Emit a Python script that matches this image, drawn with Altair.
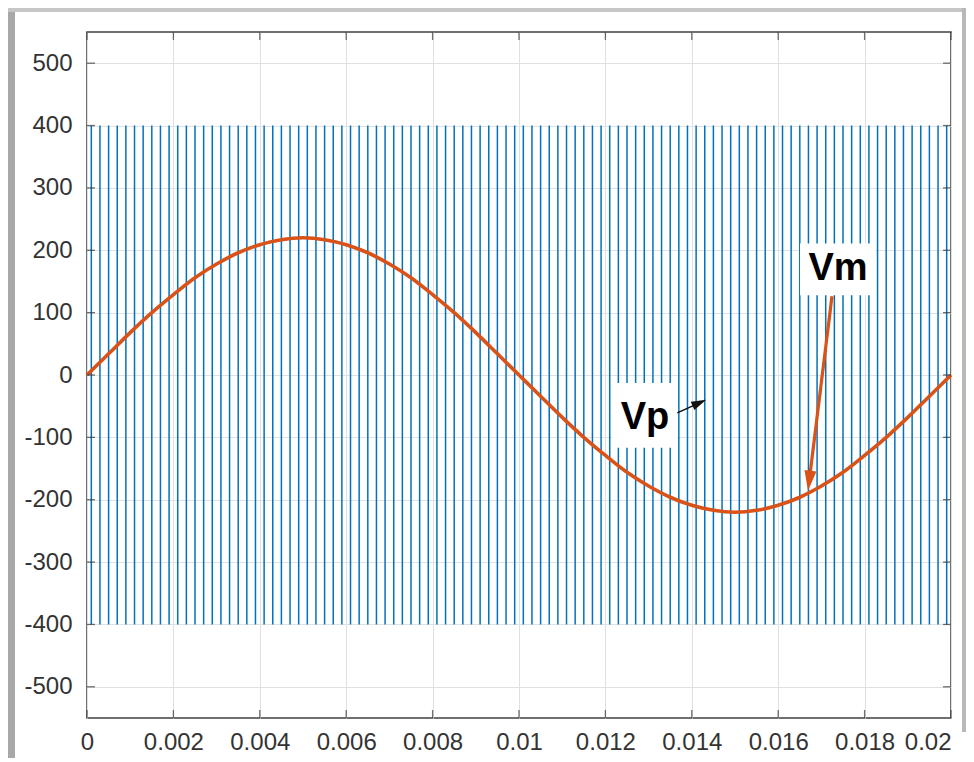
import altair as alt
import pandas as pd

# ---------------- data ----------------
x_ticks = [0, 0.002, 0.004, 0.006, 0.008, 0.01, 0.012, 0.014, 0.016, 0.018, 0.02]
y_ticks = [-500, -400, -300, -200, -100, 0, 100, 200, 300, 400, 500]

# carrier (Vp): 100 strokes between -400 and 400, one every 0.0002 s
carrier_t = [round(0.0001 + 0.0002 * k, 4) for k in range(100)]
carrier_lo = [-400] * 100
carrier_hi = [400] * 100

# modulating wave (Vm)
sine_t = [round(0.0005 * i, 4) for i in range(41)]
sine_v = [0, 34, 68, 100, 129, 156, 178, 196, 209, 217, 220, 217, 209, 196, 178, 156,
          129, 100, 68, 34, 0, -34, -68, -100, -129, -156, -178, -196, -209, -217,
          -220, -217, -209, -196, -178, -156, -129, -100, -68, -34, 0]

# annotations
ann_text = ["Vp", "Vm"]
ann_t = [0.012917, 0.017384]
ann_v = [-68.7, 169.3]
box_t1 = [0.012153, 0.016505]
box_t2 = [0.013657, 0.018264]
box_v1 = [-12.8, 210.9]
box_v2 = [-116.6, 127.8]
arrow_t0 = [0.013664, 0.017245]
arrow_v0 = [-60.7, 126.2]
arrow_t1 = [0.014176, 0.016718]
arrow_v1 = [-44.7, -169.5]
arrow_angle = [66, 187]
arrow_color = ["#111111", "#D95319"]
arrow_width = [1.6, 3.2]
arrow_size = [225, 400]

BLUE = "#0072BD"
ORANGE = "#D95319"

xs = alt.Scale(domain=[0, 0.02], nice=False, zero=False)
ys = alt.Scale(domain=[-550, 550], nice=False, zero=False)
x_axis = alt.Axis(values=x_ticks, labelExpr="format(datum.value, '.3~f')",
                  grid=True, labelPadding=12, labelFlush=False, labelOverlap=False, title=None,
                  labelAlign={"condition": {"test": "datum.value >= 0.0199", "value": "right"},
                              "value": "center"})
y_axis = alt.Axis(values=y_ticks, labelExpr="'' + datum.value",
                  grid=True, labelPadding=15, labelFlush=False, labelOverlap=False, title=None)


def X(field):
    return alt.X(field, scale=xs, axis=x_axis, title=None)


def Y(field):
    return alt.Y(field, scale=ys, axis=y_axis, title=None)


carrier_df = pd.DataFrame({"t": carrier_t, "lo": carrier_lo, "hi": carrier_hi})
sine_df = pd.DataFrame({"t": sine_t, "v": sine_v})
ann_df = pd.DataFrame({
    "text": ann_text, "t": ann_t, "v": ann_v,
    "bt1": box_t1, "bt2": box_t2, "bv1": box_v1, "bv2": box_v2,
    "at0": arrow_t0, "av0": arrow_v0, "at1": arrow_t1, "av1": arrow_v1,
    "angle": arrow_angle, "color": arrow_color, "width": arrow_width, "size": arrow_size,
})
yt_df = pd.DataFrame({"v": y_ticks})
xt_df = pd.DataFrame({"t": x_ticks})

carrier = alt.Chart(carrier_df).mark_rule(color=BLUE, strokeWidth=1.5).encode(
    x=X("t:Q"), y=Y("lo:Q"), y2="hi:Q",
)

sine = alt.Chart(sine_df).mark_line(color=ORANGE, strokeWidth=3.6, interpolate="monotone").encode(
    x=X("t:Q"), y=Y("v:Q"),
)

boxes = alt.Chart(ann_df).mark_rect(color="white").encode(
    x=X("bt1:Q"), x2="bt2:Q", y=Y("bv1:Q"), y2="bv2:Q",
)

shafts = alt.Chart(ann_df).mark_rule().encode(
    x=X("at0:Q"), x2="at1:Q", y=Y("av0:Q"), y2="av1:Q",
    color=alt.Color("color:N", scale=None),
    strokeWidth=alt.StrokeWidth("width:Q", scale=None),
)

heads = alt.Chart(ann_df).mark_point(shape="M0,-1L0.6,1L-0.6,1Z", filled=True, opacity=1).encode(
    x=X("at1:Q"), y=Y("av1:Q"),
    angle=alt.Angle("angle:Q", scale=None),
    color=alt.Color("color:N", scale=None),
    size=alt.Size("size:Q", scale=None),
)

texts = alt.Chart(ann_df).mark_text(font="Liberation Sans", fontWeight="bold", fontSize=38,
                                    color="black", align="center", baseline="middle").encode(
    x=X("t:Q"), y=Y("v:Q"), text="text:N",
)

TICK_COLOR = "#333333"
tick_l = alt.Chart(yt_df).mark_tick(orient="horizontal", size=8, thickness=1.3, color=TICK_COLOR).encode(
    y=Y("v:Q"), x=alt.value(4))
tick_r = alt.Chart(yt_df).mark_tick(orient="horizontal", size=8, thickness=1.3, color=TICK_COLOR).encode(
    y=Y("v:Q"), x=alt.value(860))
tick_b = alt.Chart(xt_df).mark_tick(orient="vertical", size=8, thickness=1.3, color=TICK_COLOR).encode(
    x=X("t:Q"), y=alt.value(682))
tick_t = alt.Chart(xt_df).mark_tick(orient="vertical", size=8, thickness=1.3, color=TICK_COLOR).encode(
    x=X("t:Q"), y=alt.value(4))

# window-shadow frame strips (decoration outside the plot)
one = pd.DataFrame({"a": [0]})
strip_l = alt.Chart(one).mark_rect(color="#a8a8a8").encode(
    x=alt.value(-79), x2=alt.value(-72), y=alt.value(-24), y2=alt.value(730))
strip_t = alt.Chart(one).mark_rect(color="#c6c6c6").encode(
    x=alt.value(-79), x2=alt.value(879), y=alt.value(-24), y2=alt.value(-20))
strip_r = alt.Chart(one).mark_rect(color="#b8b8b8").encode(
    x=alt.value(875), x2=alt.value(879), y=alt.value(-24), y2=alt.value(700))

chart = alt.layer(
    carrier, sine, boxes, shafts, heads, texts,
    tick_l, tick_r, tick_b, tick_t, strip_l, strip_t, strip_r,
).properties(
    width=864, height=686,
    autosize=alt.AutoSizeParams(type="none"),
    padding={"left": 79, "top": 24, "right": 15, "bottom": 40},
    background="white",
).configure_view(
    stroke="#404040", strokeWidth=1.5,
).configure_axis(
    labelFont="Liberation Sans", labelFontSize=24, labelColor="#333333",
    gridColor="#e0e0e0", gridWidth=1, domain=False, ticks=False, tickSize=0,
)

chart.save("out.html", embed_options={"renderer": "svg", "actions": False})
